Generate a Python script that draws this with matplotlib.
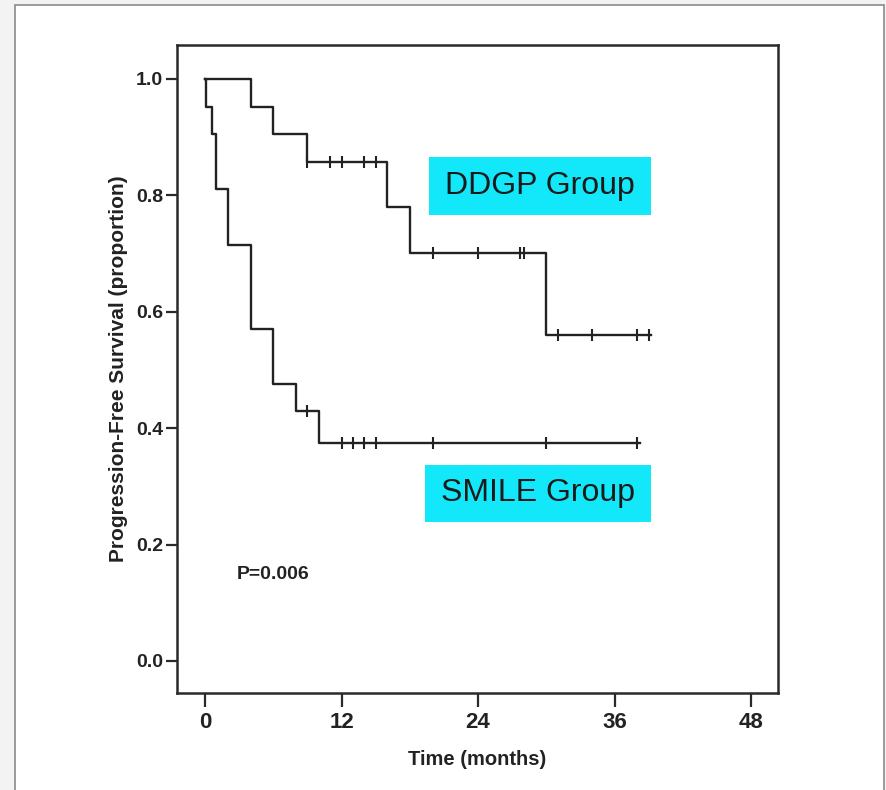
import numpy as np
import matplotlib
matplotlib.use("Agg")
import matplotlib.pyplot as plt
from matplotlib.patches import Rectangle

# ===== DATA =====
ddgp_t = [0, 4, 6, 9, 16, 18, 30, 39.2]
ddgp_s = [1.0, 0.952, 0.905, 0.857, 0.779, 0.701, 0.560, 0.560]
ddgp_cens = [9, 11, 12, 14, 15, 20, 24, 27.7, 28, 31, 34, 38, 39]

smile_t = [0, 0.1, 0.6, 1, 2, 4, 6, 8, 10, 38.2]
smile_s = [1.0, 0.952, 0.905, 0.810, 0.714, 0.571, 0.476, 0.429, 0.375, 0.375]
smile_cens = [9, 12, 13, 14, 15, 20, 30, 38]

x_ticks = [0, 12, 24, 36, 48]
y_ticks = [0.0, 0.2, 0.4, 0.6, 0.8, 1.0]

FONT = ['Liberation Sans', 'DejaVu Sans']
LINE = '#222222'


def surv_at(times, surv, t):
    """Step-function (post) value of the curve at time t."""
    idx = np.searchsorted(times, t, side='right') - 1
    return np.asarray(surv)[idx]


fig = plt.figure(figsize=(8.87, 7.90), dpi=100)
fig.patch.set_facecolor('#f3f3f3')
# white panel with thin grey frame (behind everything)
panel = Rectangle((15 / 887, -0.01), 869 / 887, 1 - 5 / 790 + 0.01,
                  transform=fig.transFigure, facecolor='white',
                  edgecolor='#8a8a8a', linewidth=1.2, zorder=-10)
fig.patches.append(panel)

ax = fig.add_axes([0.1996, 0.1228, 0.6776, 0.8202])
ax.set_zorder(1)

for t, s, cens in [(ddgp_t, ddgp_s, ddgp_cens), (smile_t, smile_s, smile_cens)]:
    ax.step(t, s, where='post', color=LINE, linewidth=1.7)
    cy = [surv_at(t, s, c) for c in cens]
    ax.plot(cens, cy, linestyle='none', marker='|', markersize=9,
            markeredgewidth=1.5, color=LINE)

ax.set_xlim(-2.46, 50.37)
ax.set_ylim(-0.055, 1.058)
ax.set_xticks(x_ticks)
ax.set_xticklabels([str(v) for v in x_ticks])
ax.set_yticks(y_ticks)
ax.set_yticklabels([f'{v:.1f}' for v in y_ticks])

for sp in ax.spines.values():
    sp.set_color('#2a2a2a')
    sp.set_linewidth(1.8)

ax.tick_params(axis='y', length=8, width=1.6, pad=2, color='#2a2a2a')
ax.tick_params(axis='x', length=10, width=1.6, pad=4, color='#2a2a2a')
for lab in ax.get_yticklabels():
    lab.set_fontfamily(FONT)
    lab.set_fontweight('bold')
    lab.set_fontsize(14)
    lab.set_color('#222222')
for lab in ax.get_xticklabels():
    lab.set_fontfamily(FONT)
    lab.set_fontweight('bold')
    lab.set_fontsize(16)
    lab.set_color('#222222')

ax.set_ylabel('Progression-Free Survival (proportion)', family=FONT,
              fontweight='bold', fontsize=15, color='#222222', labelpad=6)
ax.set_xlabel('Time (months)', family=FONT, fontweight='bold',
              fontsize=14.5, color='#222222', labelpad=12)

ax.text(2.8, 0.148, 'P=0.006', family=FONT, fontweight='bold',
        fontsize=14, color='#222222', va='center', ha='left')

# cyan group labels
for (x0, y0, x1, y1), label in [((429, 157, 651, 215), 'DDGP Group'),
                                ((425, 465, 651, 522), 'SMILE Group')]:
    fx0, fx1 = x0 / 887, x1 / 887
    fy0, fy1 = 1 - y1 / 790, 1 - y0 / 790
    fig.patches.append(Rectangle((fx0, fy0), fx1 - fx0, fy1 - fy0,
                                 transform=fig.transFigure,
                                 facecolor='#12e8fa', edgecolor='none', zorder=3))
    fig.text((fx0 + fx1) / 2, (fy0 + fy1) / 2, label, family=FONT,
             fontsize=23, color='#1a1a1a', ha='center', va='center', zorder=4)

fig.savefig('out.png', dpi=100)
